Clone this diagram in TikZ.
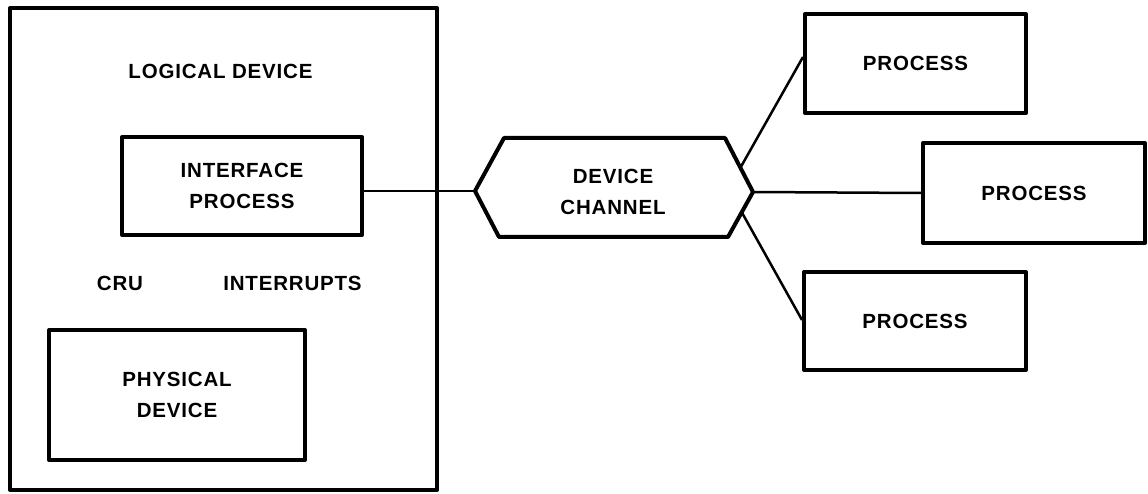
\documentclass[tikz,border=0pt]{standalone}
\usepackage{fontspec}
\setmainfont{Liberation Sans}[LetterSpace=4]
\usetikzlibrary{calc}
\begin{document}
\begin{tikzpicture}[x=1pt,y=-1pt,
  box/.style={draw,line width=4pt,line join=round,align=center,inner sep=0pt},
  lbl/.style={align=center,inner sep=0pt},
  wire/.style={line width=2.5pt},
  every node/.append style={font=\fontsize{20.5}{31}\selectfont\bfseries}]
\useasboundingbox (0,0) rectangle (1148,494);

% logical device frame and its contents
\node[box,minimum width=427pt,minimum height=482pt] (logical) at (223.5,249) {};
\node[lbl] (ltitle) at (220.5,71) {LOGICAL DEVICE};
\node[box,minimum width=240pt,minimum height=98pt] (iface) at (242,186) {INTERFACE\\PROCESS};
\node[lbl] (cru) at (120,283) {CRU};
\node[lbl] (intr) at (292.5,283) {INTERRUPTS};
\node[box,minimum width=256pt,minimum height=130pt] (phys) at (177,395) {PHYSICAL\\DEVICE};

% device channel hexagon
\coordinate (hL) at (475,191);
\coordinate (hTL) at (504,138);
\coordinate (hTR) at (725,138);
\coordinate (hR) at (753,192);
\coordinate (hBR) at (728,237);
\coordinate (hBL) at (499,237);
\draw[line width=4pt,line join=round] (hL) -- (hTL) -- (hTR) -- (hR) -- (hBR) -- (hBL) -- cycle;
\node[lbl] (chan) at (613,192) {DEVICE\\CHANNEL};
\coordinate (hU) at ($(hTR)!0.55!(hR)$);
\coordinate (hD) at ($(hR)!0.45!(hBR)$);

% processes
\node[box,minimum width=221pt,minimum height=99pt] (p1) at (915.5,63.5) {PROCESS};
\node[box,minimum width=222pt,minimum height=100pt] (p2) at (1034,193) {PROCESS};
\node[box,minimum width=222pt,minimum height=98pt] (p3) at (915,321) {PROCESS};

% connections
\draw[wire] (iface.east |- hL) -- (hL);
\draw[wire] (hU) -- (p1.west |- 0,57);
\draw[wire] (hR) -- (p2.west);
\draw[wire] (hD) -- (p3.west |- 0,320);
\end{tikzpicture}
\end{document}
